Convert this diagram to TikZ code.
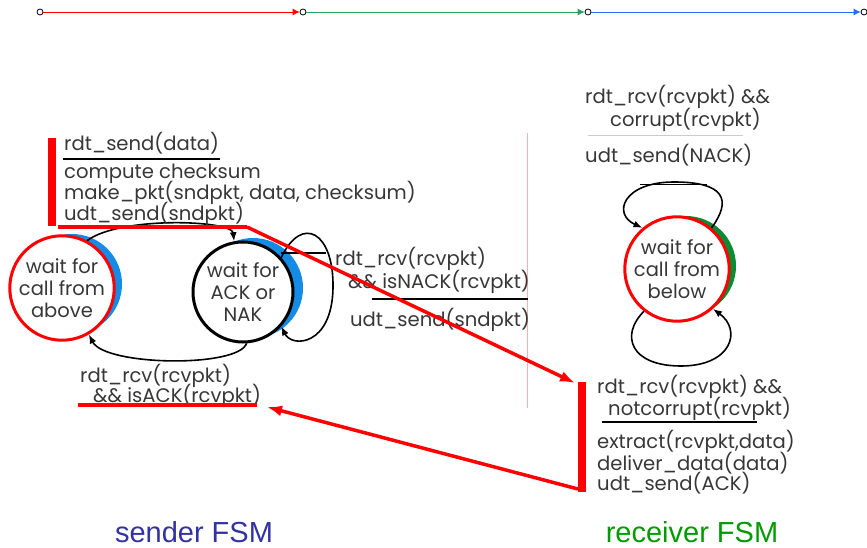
\documentclass[tikz,border=0pt]{standalone}
\usepackage{fontspec}
\setmainfont{Poppins}
\newfontfamily\capfont{Liberation Sans}
\usetikzlibrary{arrows.meta}

\definecolor{txtgray}{RGB}{55,55,55}
\definecolor{crescent}{RGB}{20,140,230}
\definecolor{rcvcrescent}{RGB}{10,140,50}
\definecolor{sendcap}{RGB}{50,50,160}
\definecolor{rcvcap}{RGB}{0,155,0}
\definecolor{topgreen}{RGB}{40,160,90}
\definecolor{topblue}{RGB}{40,105,255}
\definecolor{sepline}{RGB}{255,175,175}

\tikzset{
  dot/.style={circle, draw=black, fill=white, thick, minimum size=6pt, inner sep=0pt},
  state/.style={circle, minimum size=100pt, inner sep=0pt, fill=white, line width=3pt,
    align=center, text=txtgray, font=\fontsize{19.5}{22}\selectfont},
  act/.style={anchor=base west, inner sep=0pt, text=txtgray, font=\fontsize{19.6}{20}\selectfont},
  redline/.style={red, line width=3.5pt},
  bar/.style={red, line width=8pt},
  trans/.style={black, line width=1.6pt, ->, >={Latex[length=9pt,width=7pt]}},
}

\begin{document}
\begin{tikzpicture}[x=1pt, y=-1pt, >={Latex[length=15pt,width=11pt]}]
\useasboundingbox (0,0) rectangle (867,548);

% time line
\node[dot] (t1) at (40,12) {};
\node[dot] (t2) at (303,12) {};
\node[dot] (t3) at (588,12) {};
\node[dot] (t4) at (864,12) {};
\draw[->, red, thick, >={Latex[length=7pt,width=7pt]}] (t1) -- (t2);
\draw[->, topgreen, thick, >={Latex[length=7pt,width=7pt]}] (t2) -- (t3);
\draw[->, topblue, thick, >={Latex[length=7pt,width=7pt]}] (t3) -- (t4);

% separator
\draw[sepline, line width=0.8pt] (527,133) -- (527,408);

% sender states
\fill[crescent] (72,284) circle (50pt);
\node[state, draw=red] (above) at (62,288) {wait for\\call from\\above};
\fill[crescent] (253,288) circle (50pt);
\node[state, draw=black] (ack) at (243,292) {wait for\\ACK or\\NAK};

\draw[trans] (above.62) .. controls (120,216) and (232,220) .. (ack.100);
\draw[trans] (ack.274) .. controls (238,368) and (105,366) .. (above.300);
\draw[trans] (ack.42) .. controls (302,214) and (334,232) .. (333,288)
  .. controls (332,346) and (292,348) .. (ack.-42);
\draw[black, line width=1.2pt] (281,253) -- (326,253);

% sender actions
\draw[bar] (52,138) -- (52,226);
\node[act] (sendev) at (64,151) {rdt\_send(data)};
\draw[black, line width=1.5pt] (63,159) -- (220,159);
\node[act] (chk) at (64,179) {compute checksum};
\node[act] (mk) at (64,200) {make\_pkt(sndpkt, data, checksum)};
\node[act] (usnd) at (64,221) {udt\_send(sndpkt)};

\node[act] (nak1) at (335,265) {rdt\_rcv(rcvpkt)};
\node[act] (nak2) at (348,288) {\&\& isNACK(rcvpkt)};
\draw[black, line width=1.5pt] (372,299) -- (528,299);
\node[act] (nak3) at (350,326) {udt\_send(sndpkt)};

\node[act] (ack1) at (80,382) {rdt\_rcv(rcvpkt)};
\node[act] (ack2) at (93,402) {\&\& isACK(rcvpkt)};

% receiver state
\fill[rcvcrescent] (686,266) circle (50pt);
\node[state, draw=red] (below) at (677,269) {wait for\\call from\\below};
\draw[trans] (below.50) .. controls (732,200) and (725,182) .. (674,182)
  .. controls (623,182) and (612,214) .. (below.130);
\draw[black, line width=1pt] (640,185) -- (707,185);
\draw[trans] (below.232) .. controls (620,335) and (630,366) .. (681,366)
  .. controls (732,366) and (742,330) .. (below.-48);

% receiver actions
\node[act] (cor1) at (585,104) {rdt\_rcv(rcvpkt) \&\&};
\node[act] (cor2) at (610,127) {corrupt(rcvpkt)};
\draw[gray!40, line width=1pt] (588,136) -- (743,136);
\node[act] (cor3) at (585,163) {udt\_send(NACK)};

\draw[bar] (582,382) -- (582,492);
\node[act] (nc1) at (597,393) {rdt\_rcv(rcvpkt) \&\&};
\node[act] (nc2) at (608,415) {notcorrupt(rcvpkt)};
\draw[black, line width=1.5pt] (602,422) -- (757,422);
\node[act] (ex) at (597,448) {extract(rcvpkt,data)};
\node[act] (dl) at (597,470) {deliver\_data(data)};
\node[act] (ua) at (597,490) {udt\_send(ACK)};

% red highlights
\coordinate (su0) at (58,227);
\coordinate (su1) at (247,227);
\coordinate (rbtop) at (575,383);
\coordinate (rbbot) at (578,489);
\coordinate (ak0) at (78,405);
\coordinate (ak1) at (257,405);
\coordinate (aktip) at (267,407);
\draw[redline] (su0) -- (su1);
\draw[redline, ->] (su1) -- (rbtop);
\draw[redline] (ak0) -- (ak1);
\draw[redline, ->] (rbbot) -- (aktip);

% captions
\node[font=\capfont\fontsize{29}{32}\selectfont, text=sendcap, anchor=base] (sfsm) at (194,542) {sender FSM};
\node[font=\capfont\fontsize{29}{32}\selectfont, text=rcvcap, anchor=base] (rfsm) at (692,542) {receiver FSM};
\end{tikzpicture}
\end{document}
